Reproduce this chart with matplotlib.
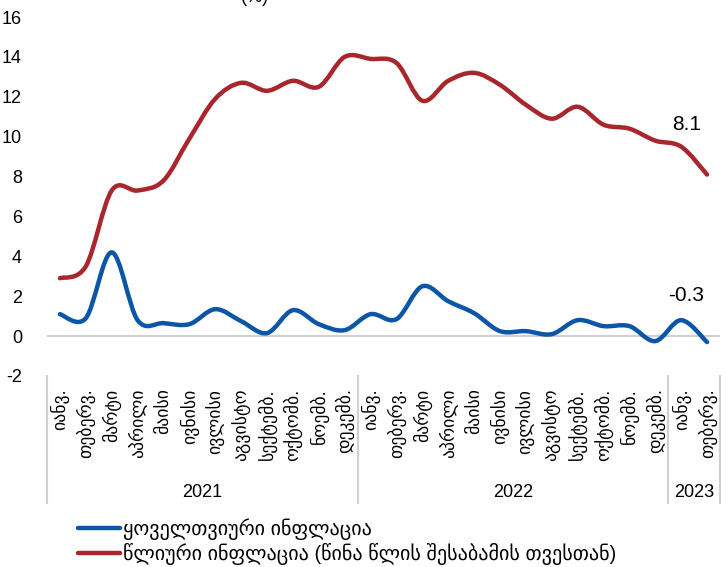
import numpy as np
import matplotlib.pyplot as plt
from matplotlib.path import Path
from matplotlib.patches import PathPatch
from matplotlib.transforms import blended_transform_factory

plt.rcParams['font.family'] = ['Liberation Sans', 'DejaVu Sans']
plt.rcParams['axes.unicode_minus'] = False

months_ka = ["იანვ.", "თებერვ.", "მარტი", "აპრილი", "მაისი", "ივნისი",
             "ივლისი", "აგვისტო", "სექტემბ.", "ოქტომბ.", "ნოემბ.", "დეკემბ."]
years = ["2021", "2022", "2023"]
months_per_year = [12, 12, 2]
tick_labels = months_ka + months_ka + months_ka[:2]

monthly = [1.1, 0.9, 4.2, 0.8, 0.65, 0.6, 1.35, 0.75, 0.15, 1.3, 0.6, 0.3,
           1.1, 0.85, 2.5, 1.75, 1.15, 0.25, 0.25, 0.1, 0.8, 0.5, 0.5, -0.25,
           0.8, -0.3]
annual = [2.9, 3.5, 7.3, 7.3, 7.8, 9.9, 11.9, 12.7, 12.3, 12.8, 12.5, 14.0,
          13.9, 13.7, 11.8, 12.8, 13.2, 12.6, 11.6, 10.9, 11.5, 10.6, 10.4, 9.8,
          9.5, 8.1]

label_monthly = "ყოველთვიური ინფლაცია"
label_annual = "წლიური ინფლაცია (წინა წლის შესაბამის თვესთან)"

blue = '#0b56a6'
red = '#a8262c'


def smooth_path(x, y):
    # catmull-rom segments drawn as cubic bezier curves
    x = np.asarray(x, float)
    y = np.asarray(y, float)
    pts = np.column_stack([x, y])
    verts = [pts[0]]
    codes = [Path.MOVETO]
    n = len(pts)
    for i in range(n - 1):
        p0 = pts[max(i - 1, 0)]
        p1 = pts[i]
        p2 = pts[i + 1]
        p3 = pts[min(i + 2, n - 1)]
        c1 = p1 + (p2 - p0) / 6
        c2 = p2 - (p3 - p1) / 6
        verts += [c1, c2, p2]
        codes += [Path.CURVE4] * 3
    return Path(verts, codes)


fig = plt.figure(figsize=(7.26, 5.67), dpi=100)
ax = fig.add_axes([47 / 726, 1 - 376 / 567, 673 / 726, 359 / 567])

x = np.arange(len(monthly))
for vals, col, lab in [(monthly, blue, label_monthly), (annual, red, label_annual)]:
    patch = PathPatch(smooth_path(x, vals), facecolor='none', edgecolor=col,
                      lw=3.2, capstyle='round', joinstyle='round')
    ax.add_patch(patch)
    ax.plot([], [], color=col, lw=3.2, solid_capstyle='round', label=lab)

ax.axhline(0, color='#d0d0d0', lw=1.5, zorder=0)

ax.set_xlim(-0.5, len(monthly) - 0.5)
ax.set_ylim(-2, 16)
ax.set_yticks(range(-2, 17, 2))
ax.set_xticks(x)
ax.set_xticklabels(tick_labels, rotation=90, fontsize=12.8, va='top')
ax.tick_params(axis='x', length=0, pad=9)
ax.tick_params(axis='y', length=0, pad=18, labelsize=13)
for s in ax.spines.values():
    s.set_visible(False)

# year groups under the month labels
trans = blended_transform_factory(ax.transData, ax.transAxes)
bounds = np.concatenate([[0], np.cumsum(months_per_year)]) - 0.5
for b in bounds:
    ax.plot([b, b], [0, -0.355], color='#d0d0d0', lw=1.5, transform=trans,
            clip_on=False)
for i, yr in enumerate(years):
    ax.text((bounds[i] + bounds[i + 1]) / 2, -0.325, yr, transform=trans,
            ha='center', va='center', fontsize=13)

ax.text(len(annual) - 1.8, annual[-1] + 2.5, f"{annual[-1]:.1f}", fontsize=15,
        ha='center', va='center')
ax.text(len(monthly) - 1.8, monthly[-1] + 2.35, f"{monthly[-1]:.1f}", fontsize=15,
        ha='center', va='center')

fig.text(0.351, 1 - 1.5 / 567, "(%)", fontsize=13, ha='center', va='baseline')

fig.legend(loc='upper left', bbox_to_anchor=(70 / 726, 1 - 510 / 567),
           frameon=False, fontsize=14.5, handlelength=2.1, handletextpad=0.15,
           labelspacing=0.15, borderaxespad=0)

fig.savefig('out.png', dpi=100)
